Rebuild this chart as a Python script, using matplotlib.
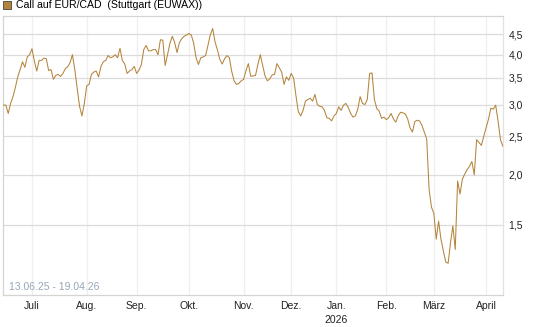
import numpy as np
import pandas as pd
import matplotlib
matplotlib.use("Agg")
import matplotlib.pyplot as plt
from matplotlib.patches import Patch
from matplotlib.ticker import FixedLocator, NullLocator

plt.rcParams['font.family'] = ['Liberation Sans', 'DejaVu Sans']

# trading days on the exchange (no weekends / holidays)
holidays = ['2025-12-24', '2025-12-25', '2025-12-26', '2025-12-31',
            '2026-01-01', '2026-04-03', '2026-04-06']

# daily price of the call
prices = [
    2.99, 2.99, 2.85, 3.02, 3.14, 3.31, 3.52, 3.67, 3.84, 3.72,
    3.95, 4.00, 4.14, 3.85, 3.64, 3.87, 3.87, 3.92, 3.91, 3.65,
    3.67, 3.47, 3.55, 3.57, 3.53, 3.59, 3.69, 3.73, 3.82, 4.00,
    3.67, 3.29, 2.97, 2.81, 3.02, 3.34, 3.37, 3.57, 3.62, 3.64,
    3.52, 3.74, 3.84, 3.87, 3.98, 3.93, 3.95, 4.00, 3.93, 4.15,
    3.87, 3.79, 3.59, 3.64, 3.67, 3.74, 3.59, 3.66, 3.78, 4.12,
    4.22, 4.09, 4.09, 4.12, 4.12, 4.00, 4.36, 4.35, 3.76, 4.00,
    4.27, 4.45, 4.29, 4.05, 4.29, 4.39, 4.45, 4.48, 4.52, 4.48,
    4.27, 3.93, 3.78, 3.93, 3.95, 3.98, 4.22, 4.49, 4.65, 4.30,
    4.11, 3.89, 3.79, 3.91, 3.98, 3.93, 3.63, 3.44, 3.37, 3.39,
    3.44, 3.47, 3.65, 3.80, 3.53, 3.54, 3.55, 3.78, 4.00, 3.76,
    3.54, 3.44, 3.48, 3.56, 3.57, 3.80, 3.71, 3.62, 3.37, 3.52,
    3.45, 3.59, 3.50, 3.16, 2.88, 2.81, 2.90, 3.06, 3.09, 3.11,
    3.06, 3.18, 3.00, 2.97, 2.96, 2.90, 2.78, 2.77, 2.73, 2.81,
    2.85, 2.96, 2.90, 2.99, 3.02, 2.95, 2.85, 2.79, 2.81, 2.92,
    3.14, 3.02, 3.00, 3.09, 3.59, 3.60, 3.09, 2.93, 2.89, 2.77,
    2.79, 2.75, 2.78, 2.85, 2.76, 2.71, 2.81, 2.87, 2.86, 2.84,
    2.76, 2.62, 2.56, 2.72, 2.74, 2.73, 2.66, 2.56, 2.46, 1.84,
    1.66, 1.60, 1.38, 1.53, 1.38, 1.29, 1.21, 1.20, 1.35, 1.49,
    1.30, 1.93, 1.79, 1.95, 2.01, 2.06, 2.10, 2.16, 2.00, 2.45,
    2.41, 2.37, 2.50, 2.63, 2.76, 2.94, 2.92, 2.99, 2.73, 2.45,
    2.36,
]

month_starts = ['2025-07-01', '2025-08-01', '2025-09-01', '2025-10-01',
                '2025-11-01', '2025-12-01', '2026-01-01', '2026-02-01',
                '2026-03-01', '2026-04-01']
month_labels = ['Juli', 'Aug.', 'Sep.', 'Okt.', 'Nov.', 'Dez.',
                'Jan.\n2026', 'Feb.', 'März', 'April']

y_ticks = [1.5, 2.0, 2.5, 3.0, 3.5, 4.0, 4.5]

dates = pd.bdate_range(start='2025-06-13', periods=len(prices), freq='C',
                       holidays=holidays)
idx = np.arange(len(prices))
month_pos = np.searchsorted(dates.values, pd.to_datetime(month_starts).values)

line_col = '#b5843c'

fig = plt.figure(figsize=(5.45, 3.27), dpi=100)
ax = fig.add_axes([0.0055, 0.098, 0.9175, 0.853])

ax.plot(idx, prices, color=line_col, lw=0.75, zorder=3)

ax.set_yscale('log')
ax.set_ylim(1.0, 5.0)
ax.set_xlim(-0.2, len(prices) - 0.9)

ax.yaxis.set_major_locator(FixedLocator(y_ticks))
ax.yaxis.set_minor_locator(NullLocator())
ax.set_yticklabels([f"{t:.1f}".replace('.', ',') for t in y_ticks])
ax.yaxis.tick_right()
ax.tick_params(axis='y', length=0, pad=4, labelsize=7.5, colors='#222222')

ax.set_xticks(month_pos)
ax.set_xticklabels(month_labels, linespacing=1.6)
ax.tick_params(axis='x', length=0, pad=4, labelsize=7.5, colors='#222222')

ax.grid(axis='y', color='#dcdcdc', lw=0.9)
ax.grid(axis='x', color='#efefef', lw=0.9)
ax.set_axisbelow(True)

for side in ['left', 'bottom', 'top']:
    ax.spines[side].set_color('#d4d4d4')
ax.spines['right'].set_color('#e2e2e2')
for s in ax.spines.values():
    s.set_linewidth(0.9)

ax.text(0.012, 0.012, '13.06.25 - 19.04.26', transform=ax.transAxes,
        fontsize=7.5, color='#98a6b8', ha='left', va='bottom')

handle = Patch(facecolor=line_col, edgecolor='#444444', linewidth=0.6)
fig.legend(handles=[handle], labels=['Call auf EUR/CAD  (Stuttgart (EUWAX))'],
           loc='upper left', bbox_to_anchor=(-0.006, 1.018), frameon=False,
           fontsize=7.6, handlelength=0.75, handleheight=0.75,
           handletextpad=0.45, borderaxespad=0.2)

fig.savefig('out.png', dpi=100)
